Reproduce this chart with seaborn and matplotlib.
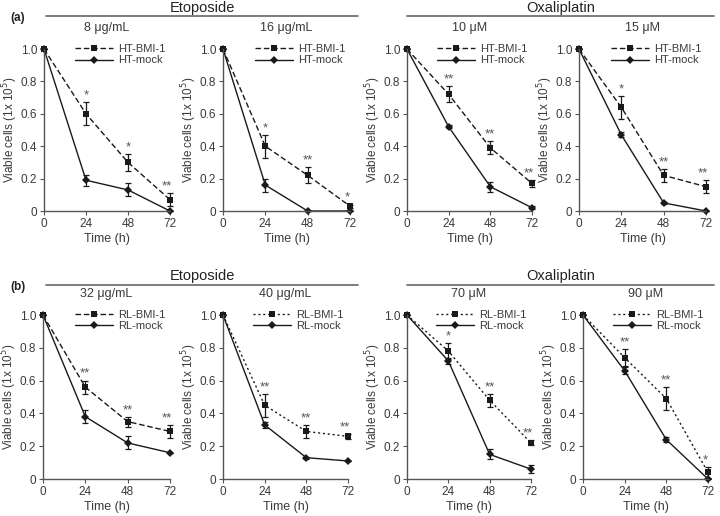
import matplotlib
matplotlib.use("Agg")
import matplotlib.pyplot as plt
import seaborn as sns
import pandas as pd
import numpy as np
from matplotlib.lines import Line2D

sns.set_style("ticks")
plt.rcParams['font.family'] = ['Liberation Sans', 'DejaVu Sans']

times = [0, 24, 48, 72]

titles = ["8 μg/mL", "16 μg/mL", "10 μM", "15 μM",
          "32 μg/mL", "40 μg/mL", "70 μM", "90 μM"]
series_names = [("HT-BMI-1", "HT-mock")] * 4 + [("RL-BMI-1", "RL-mock")] * 4

bmi_vals = [
    [1.0, 0.60, 0.30, 0.07],
    [1.0, 0.40, 0.22, 0.03],
    [1.0, 0.72, 0.39, 0.17],
    [1.0, 0.64, 0.22, 0.15],
    [1.0, 0.56, 0.35, 0.29],
    [1.0, 0.45, 0.29, 0.26],
    [1.0, 0.78, 0.48, 0.22],
    [1.0, 0.74, 0.49, 0.04],
]
bmi_err = [
    [0.0, 0.07, 0.05, 0.04],
    [0.0, 0.07, 0.05, 0.01],
    [0.0, 0.05, 0.04, 0.02],
    [0.0, 0.07, 0.04, 0.04],
    [0.0, 0.04, 0.03, 0.04],
    [0.0, 0.07, 0.04, 0.015],
    [0.0, 0.05, 0.04, 0.015],
    [0.0, 0.05, 0.07, 0.035],
]
mock_vals = [
    [1.0, 0.19, 0.13, 0.0],
    [1.0, 0.16, 0.0, 0.0],
    [1.0, 0.52, 0.15, 0.02],
    [1.0, 0.47, 0.05, 0.0],
    [1.0, 0.38, 0.22, 0.16],
    [1.0, 0.33, 0.13, 0.11],
    [1.0, 0.72, 0.15, 0.06],
    [1.0, 0.66, 0.24, 0.0],
]
mock_err = [
    [0.0, 0.035, 0.04, 0.0],
    [0.0, 0.04, 0.0, 0.0],
    [0.0, 0.01, 0.03, 0.01],
    [0.0, 0.015, 0.005, 0.0],
    [0.0, 0.04, 0.04, 0.0],
    [0.0, 0.02, 0.005, 0.0],
    [0.0, 0.02, 0.03, 0.025],
    [0.0, 0.02, 0.015, 0.0],
]
stars = [
    ["*", "*", "**"],
    ["*", "**", "*"],
    ["**", "**", "**"],
    ["*", "**", "**"],
    ["**", "**", "**"],
    ["**", "**", "**"],
    ["*", "**", "**"],
    ["**", "**", "*"],
]
dash_styles = [(4, 2)] * 5 + [(1.5, 2)] * 3

# axes pixel boxes (left, right) per panel
px_lr = [(44, 170), (223, 350), (407, 532), (579, 706),
         (43, 170), (223, 348), (407, 531), (583, 708)]
row_tb = [(49, 211), (315, 479)]

W, H = 720, 516
fig = plt.figure(figsize=(7.2, 5.16), dpi=100)

line_col = "#1a1a1a"
txt_col = "#3a3a3a"
spine_col = "#555555"

for i in range(8):
    l, r = px_lr[i]
    t, b = row_tb[0] if i < 4 else row_tb[1]
    ax = fig.add_axes([l / W, (H - b) / H, (r - l) / W, (b - t) / H])
    n_bmi, n_mock = series_names[i]
    df = pd.DataFrame({
        "Time": times * 2,
        "Cells": bmi_vals[i] + mock_vals[i],
        "Group": [n_bmi] * 4 + [n_mock] * 4,
    })
    sns.lineplot(data=df, x="Time", y="Cells", hue="Group", style="Group",
                 palette=[line_col, line_col], markers=["s", "D"],
                 dashes=[dash_styles[i], ""], markersize=4.5,
                 markeredgewidth=0, linewidth=1.0, ax=ax, clip_on=False,
                 legend=True)
    ax.errorbar(times, bmi_vals[i], yerr=bmi_err[i], fmt="none",
                ecolor=line_col, elinewidth=0.9, capsize=2.5, capthick=0.9,
                clip_on=False)
    ax.errorbar(times, mock_vals[i], yerr=mock_err[i], fmt="none",
                ecolor=line_col, elinewidth=0.9, capsize=2.5, capthick=0.9,
                clip_on=False)
    for k, s in enumerate(stars[i]):
        top = max(bmi_vals[i][k + 1] + bmi_err[i][k + 1],
                  mock_vals[i][k + 1] + mock_err[i][k + 1])
        dx = -2 if k == 2 else 0
        ax.annotate(s, (times[k + 1], top), xytext=(dx, 0.5),
                    textcoords="offset points", ha="center", va="bottom",
                    fontsize=9.5, color="#555555", annotation_clip=False)
    ax.set_xlim(0, 72)
    ax.set_ylim(0, 1.0)
    ax.set_xticks(times)
    ax.set_xticklabels([str(t_) for t_ in times])
    ax.set_yticks([0, 0.2, 0.4, 0.6, 0.8, 1.0])
    ax.set_yticklabels(["0", "0.2", "0.4", "0.6", "0.8", "1.0"])
    ax.tick_params(labelsize=8.5, colors=spine_col, labelcolor=txt_col,
                   length=3, width=0.8, pad=2)
    for sp in ["top", "right"]:
        ax.spines[sp].set_visible(False)
    for sp in ["left", "bottom"]:
        ax.spines[sp].set_color(spine_col)
        ax.spines[sp].set_linewidth(1.0)
    ax.set_xlabel("Time (h)", fontsize=9, color=txt_col, labelpad=2)
    ax.set_ylabel("Viable cells (1x 10$^5$)", fontsize=8.5, color=txt_col,
                  labelpad=0.5)
    leg = ax.legend(loc="upper right", bbox_to_anchor=(1.0, 1.06),
                    frameon=False, fontsize=8, handlelength=3.4,
                    labelspacing=0.15, handletextpad=0.5, borderaxespad=0)
    for txt in leg.get_texts():
        txt.set_color(txt_col)
    ax.set_title(titles[i], fontsize=9, color=txt_col, pad=13)

# headers
def header(text, x0, x1, y_line, y_text):
    fig.add_artist(Line2D([x0 / W, x1 / W], [1 - y_line / H, 1 - y_line / H],
                          color="#666666", linewidth=1.2))
    fig.text((x0 + x1) / 2 / W, 1 - y_text / H, text, ha="center",
             va="center", fontsize=10.5, color="#222222")

header("Etoposide", 46, 358, 16, 8)
header("Oxaliplatin", 407, 714, 16, 8)
header("Etoposide", 46, 358, 285, 276)
header("Oxaliplatin", 407, 714, 285, 276)
fig.text(18 / W, 1 - 18 / H, "(a)", fontsize=8.5, fontweight="bold",
         color="#222222", ha="center", va="center")
fig.text(18 / W, 1 - 287 / H, "(b)", fontsize=8.5, fontweight="bold",
         color="#222222", ha="center", va="center")

fig.savefig("out.png", dpi=100)
